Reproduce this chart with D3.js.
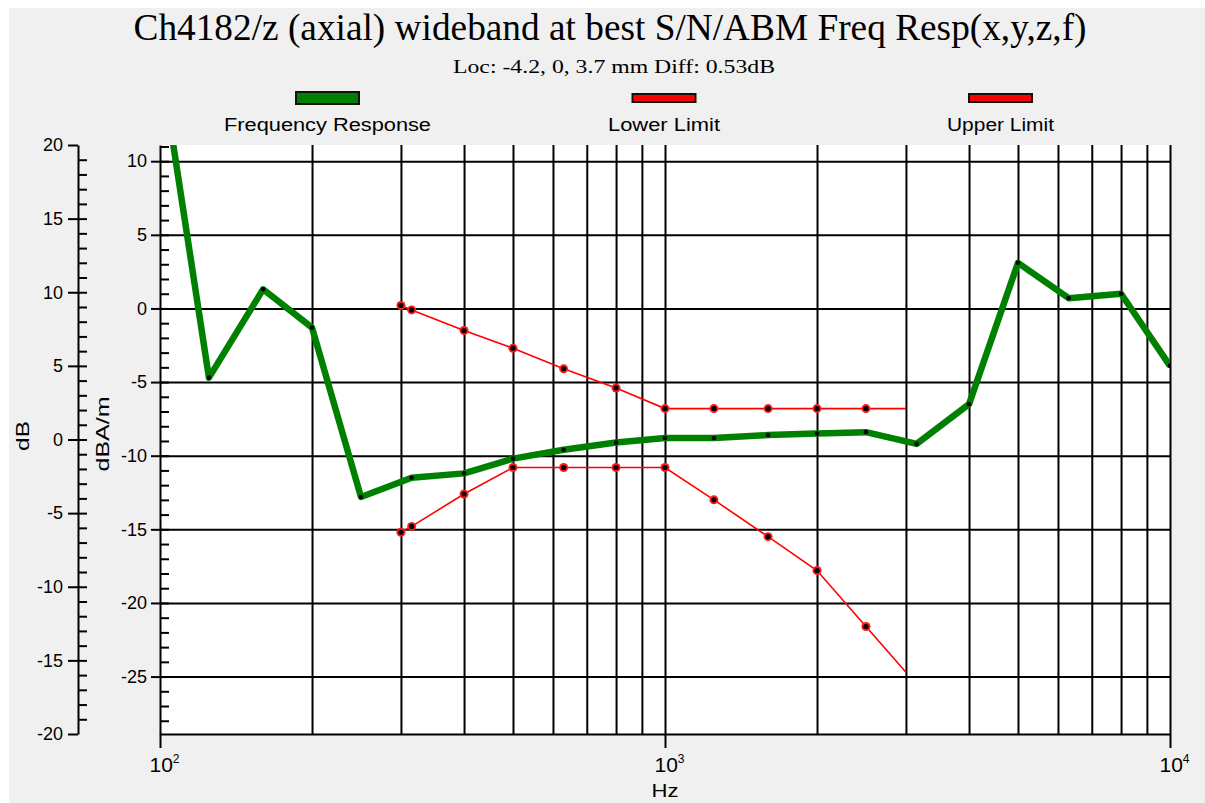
<!DOCTYPE html>
<html>
<head>
<meta charset="utf-8">
<script src="https://cdn.jsdelivr.net/npm/d3@7"></script>
<style>
  html, body { margin: 0; padding: 0; background: #fff; }
  svg { display: block; }
  text { font-family: "Liberation Sans", Arial, sans-serif; fill: #000; }
</style>
</head>
<body>
<svg id="chart" width="1205" height="803"></svg>
<script>
// 1/3 octave centre frequencies of the measurement
var freqs = [100, 125, 160, 200, 250, 315, 400, 500, 630, 800, 1000, 1250, 1600, 2000, 2500, 3150, 4000, 5000, 6300, 8000, 10000];
var response = [17.0, -4.7, 1.3, -1.3, -12.8, -11.5, -11.2, -10.2, -9.6, -9.1, -8.8, -8.8, -8.6, -8.5, -8.4, -9.2, -6.5, 3.1, 0.7, 1.0, -3.9];

// limit mask (last point has no marker)
var limitFreqs = [300, 315, 400, 500, 630, 800, 1000, 1250, 1600, 2000, 2500, 3000];
var upperLimit = [0.2, -0.1, -1.5, -2.7, -4.1, -5.4, -6.8, -6.8, -6.8, -6.8, -6.8, -6.8];
var lowerLimit = [-15.2, -14.8, -12.6, -10.8, -10.8, -10.8, -10.8, -13.0, -15.5, -17.8, -21.6, -24.7];

var seriesNames = ["Frequency Response", "Lower Limit", "Upper Limit"];

var dbTicks = [-20, -15, -10, -5, 0, 5, 10, 15, 20];
var dbaTicks = [-25, -20, -15, -10, -5, 0, 5, 10];
var decadeTicks = [100, 1000, 10000];
var gridFreqs = [200, 300, 400, 500, 600, 700, 800, 900, 1000, 2000, 3000, 4000, 5000, 6000, 7000, 8000, 9000, 10000];

var titleText = "Ch4182/z (axial) wideband at best S/N/ABM Freq Resp(x,y,z,f)";
var subtitleText = "Loc: -4.2, 0, 3.7 mm Diff: 0.53dB";

(function () {
    var svg = d3.select("#chart");
    var pl = 160, pr = 1170, pt = 145, pb = 734;

    svg.append("rect").attr("x", 9).attr("y", 8).attr("width", 1196).attr("height", 795).attr("fill", "#f0f0f0");
    svg.append("rect").attr("x", pl).attr("y", pt).attr("width", pr - pl).attr("height", pb - pt).attr("fill", "#fff");

    var x = d3.scaleLog().domain([100, 10000]).range([pl, pr]);
    var y = d3.scaleLinear().domain([-28.9, 11.1]).range([pb, pt]);
    var yDb = d3.scaleLinear().domain([-20, 20]).range([pb, pt]);
    var plain = function (d) { return String(d); };  // hyphen minus, like the original

    function styleAxis(g, w) {
        g.attr("font-size", 18).attr("font-family", "Liberation Sans, Arial, sans-serif");
        g.selectAll("path.domain").attr("stroke", "#000").attr("stroke-width", w);
        g.selectAll(".tick line").attr("stroke", "#000").attr("stroke-width", w);
        g.selectAll(".tick text").attr("fill", "#111");
    }

    // grid
    var hGrid = svg.append("g").attr("transform", "translate(" + pl + ",0)")
        .call(d3.axisRight(y).tickValues(dbaTicks).tickSize(pr - pl).tickSizeOuter(0).tickFormat(""));
    hGrid.select("path.domain").remove();
    styleAxis(hGrid, 2);

    var vGrid = svg.append("g").attr("transform", "translate(0," + pb + ")")
        .call(d3.axisBottom(x).tickValues(gridFreqs).tickSize(-(pb - pt)).tickSizeOuter(0).tickFormat(""));
    vGrid.select("path.domain").remove();
    styleAxis(vGrid, 2);

    // outer dB axis
    var dbAxis = svg.append("g").attr("transform", "translate(78,0)")
        .call(d3.axisLeft(yDb).tickValues(dbTicks).tickSize(10).tickPadding(5).tickSizeOuter(0).tickFormat(plain));
    styleAxis(dbAxis, 2);
    var dbMinor = svg.append("g").attr("transform", "translate(78,0)")
        .call(d3.axisRight(yDb).tickValues(d3.range(-19, 20)).tickSize(9).tickSizeOuter(0).tickFormat(""));
    dbMinor.select("path.domain").remove();
    styleAxis(dbMinor, 2);

    // inner dBA/m axis
    var dbaAxis = svg.append("g").attr("transform", "translate(" + pl + ",0)")
        .call(d3.axisLeft(y).tickValues(dbaTicks).tickSize(9).tickPadding(4).tickSizeOuter(0).tickFormat(plain));
    styleAxis(dbaAxis, 2);
    var dbaMinor = svg.append("g").attr("transform", "translate(" + pl + ",0)")
        .call(d3.axisRight(y).tickValues(d3.range(-28, 12)).tickSize(9).tickSizeOuter(0).tickFormat(""));
    dbaMinor.select("path.domain").remove();
    styleAxis(dbaMinor, 2);

    // frequency axis
    var xAxis = svg.append("g").attr("transform", "translate(0," + pb + ")")
        .call(d3.axisBottom(x).tickValues(decadeTicks).tickSize(14).tickSizeOuter(0).tickFormat(""));
    styleAxis(xAxis, 2);
    xAxis.selectAll(".tick").each(function (d) {
        var t = d3.select(this).append("text")
            .attr("x", -11).attr("y", 38)
            .attr("text-anchor", "start")
            .attr("font-size", 21).attr("fill", "#111");
        t.append("tspan").text("10");
        t.append("tspan").attr("dy", -9).attr("font-size", 12).text(Math.round(Math.log10(d)));
    });

    // axis titles
    svg.append("text").attr("x", 665).attr("y", 797).attr("text-anchor", "middle")
        .attr("font-size", 18).attr("textLength", 27).attr("lengthAdjust", "spacingAndGlyphs").text("Hz");
    svg.append("text").attr("transform", "translate(29,436) rotate(-90)").attr("text-anchor", "middle")
        .attr("font-size", 18).attr("textLength", 30).attr("lengthAdjust", "spacingAndGlyphs").text("dB");
    svg.append("text").attr("transform", "translate(109,434) rotate(-90)").attr("text-anchor", "middle")
        .attr("font-size", 18).attr("textLength", 75).attr("lengthAdjust", "spacingAndGlyphs").text("dBA/m");

    // title
    svg.append("text").attr("x", 610).attr("y", 40).attr("text-anchor", "middle")
        .style("font-family", "'Liberation Serif', 'Times New Roman', serif")
        .attr("font-size", 38).attr("textLength", 953).attr("lengthAdjust", "spacingAndGlyphs").text(titleText);
    svg.append("text").attr("x", 614).attr("y", 73).attr("text-anchor", "middle")
        .style("font-family", "'Liberation Serif', 'Times New Roman', serif")
        .attr("font-size", 18).attr("textLength", 322).attr("lengthAdjust", "spacingAndGlyphs").text(subtitleText);

    // series
    svg.append("clipPath").attr("id", "plotClip").append("rect")
        .attr("x", pl).attr("y", pt).attr("width", pr - pl).attr("height", pb - pt);
    var plot = svg.append("g").attr("clip-path", "url(#plotClip)");

    var line = d3.line().x(function (d) { return x(d.f); }).y(function (d) { return y(d.v); });
    var respPts = freqs.map(function (f, i) { return { f: f, v: response[i] }; });
    var upperPts = limitFreqs.map(function (f, i) { return { f: f, v: upperLimit[i] }; });
    var lowerPts = limitFreqs.map(function (f, i) { return { f: f, v: lowerLimit[i] }; });

    [lowerPts, upperPts].forEach(function (pts) {
        plot.append("path").datum(pts).attr("d", line)
            .attr("fill", "none").attr("stroke", "#ff0000").attr("stroke-width", 1.6);
        var marks = plot.append("g").selectAll("g").data(pts.slice(0, pts.length - 1)).enter().append("g")
            .attr("transform", function (d) { return "translate(" + x(d.f) + "," + y(d.v) + ")"; });
        marks.append("circle").attr("r", 4.5).attr("fill", "#ff1a1a");
        marks.append("circle").attr("r", 2.6).attr("fill", "#000");
    });

    plot.append("path").datum(respPts).attr("d", line)
        .attr("fill", "none").attr("stroke", "#008000").attr("stroke-width", 6.5)
        .attr("stroke-linejoin", "round");
    plot.append("g").selectAll("circle").data(respPts).enter().append("circle")
        .attr("cx", function (d) { return x(d.f); })
        .attr("cy", function (d) { return y(d.v); })
        .attr("r", 2.3).attr("fill", "#000");

    // legend
    var legendX = [327.5, 664, 1000.5];
    var legendColors = ["#008000", "#ff0000", "#ff0000"];
    var legendH = [12, 8, 8];
    var legendLen = [207, 112, 107];
    var legend = svg.append("g").selectAll("g").data(seriesNames).enter().append("g")
        .attr("transform", function (d, i) { return "translate(" + legendX[i] + ",0)"; });
    legend.append("rect")
        .attr("x", -31.5)
        .attr("y", function (d, i) { return 98 - legendH[i] / 2; })
        .attr("width", 63)
        .attr("height", function (d, i) { return legendH[i]; })
        .attr("fill", function (d, i) { return legendColors[i]; })
        .attr("stroke", "#111").attr("stroke-width", 2);
    legend.append("text")
        .attr("y", 131).attr("text-anchor", "middle").attr("font-size", 18)
        .attr("textLength", function (d, i) { return legendLen[i]; })
        .attr("lengthAdjust", "spacingAndGlyphs")
        .text(function (d) { return d; });
})();
</script>
</body>
</html>
